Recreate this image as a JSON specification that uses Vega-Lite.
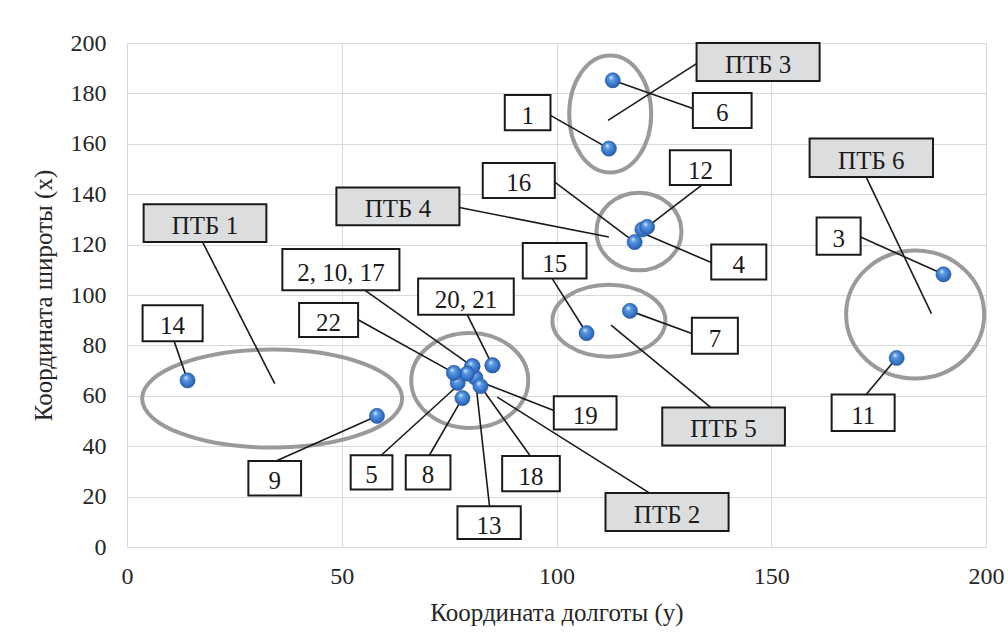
{
  "$schema": "https://vega.github.io/schema/vega-lite/v6.json",
  "autosize": {"type": "none"},
  "width": 859,
  "height": 504,
  "padding": {"left": 127, "top": 43, "right": 22, "bottom": 91},
  "background": "white",
  "config": {
    "view": {"stroke": null},
    "font": "Liberation Serif",
    "axis": {
      "grid": true,
      "gridColor": "#d9d9d9",
      "gridWidth": 1,
      "domain": false,
      "ticks": false,
      "tickSize": 0,
      "labelFont": "Liberation Serif",
      "titleFont": "Liberation Serif",
      "labelFontSize": 24,
      "titleFontSize": 25,
      "titleFontWeight": "normal",
      "labelColor": "#262626",
      "titleColor": "#262626",
      "labelFlush": false,
      "labelOverlap": false
    }
  },
  "datasets": {
    "points": [
      {"id": "1", "x": 112.2, "y": 158.1},
      {"id": "2", "x": 80.4, "y": 71.7},
      {"id": "3", "x": 190.1, "y": 108.2},
      {"id": "4", "x": 120.0, "y": 126.0},
      {"id": "5", "x": 77.0, "y": 65.1},
      {"id": "6", "x": 113.1, "y": 185.2},
      {"id": "7", "x": 117.1, "y": 93.7},
      {"id": "8", "x": 78.1, "y": 59.1},
      {"id": "9", "x": 58.2, "y": 52.0},
      {"id": "10", "x": 80.4, "y": 71.7},
      {"id": "11", "x": 179.2, "y": 75.0},
      {"id": "12", "x": 121.1, "y": 127.0},
      {"id": "13", "x": 81.1, "y": 67.2},
      {"id": "14", "x": 14.1, "y": 66.1},
      {"id": "15", "x": 107.0, "y": 84.9},
      {"id": "16", "x": 118.2, "y": 121.0},
      {"id": "17", "x": 80.4, "y": 71.7},
      {"id": "18", "x": 82.3, "y": 63.8},
      {"id": "19", "x": 79.2, "y": 68.8},
      {"id": "20", "x": 85.1, "y": 72.1},
      {"id": "21", "x": 85.1, "y": 72.1},
      {"id": "22", "x": 76.1, "y": 69.1}
    ],
    "groups": [
      {"name": "ПТБ 1", "cx": 33.8, "cy": 58.9},
      {"name": "ПТБ 2", "cx": 79.8, "cy": 66.1},
      {"name": "ПТБ 3", "cx": 112.5, "cy": 171.8},
      {"name": "ПТБ 4", "cx": 119.2, "cy": 125.2},
      {"name": "ПТБ 5", "cx": 112.2, "cy": 89.8},
      {"name": "ПТБ 6", "cx": 183.5, "cy": 92.3}
    ],
    "labels": [
      {"label": "ПТБ 1", "kind": "group", "x1": 3.87, "x2": 32.45, "y1": 121.0, "y2": 136.0, "lx": 18.16, "ly": 128.5, "px": 34.4, "py": 64.8, "ex": 17.6, "ey": 121.0},
      {"label": "ПТБ 2", "kind": "group", "x1": 111.41, "x2": 140.07, "y1": 6.3, "y2": 21.4, "lx": 125.74, "ly": 13.85, "px": 86.2, "py": 59.5, "ex": 121.7, "ey": 21.4},
      {"label": "ПТБ 3", "kind": "group", "x1": 132.61, "x2": 161.26, "y1": 184.9, "y2": 200.0, "lx": 146.94, "ly": 192.45, "px": 112.0, "py": 169.3, "ex": 132.61, "ey": 191.8},
      {"label": "ПТБ 4", "kind": "group", "x1": 48.75, "x2": 77.4, "y1": 127.7, "y2": 142.7, "lx": 63.08, "ly": 135.2, "px": 112.2, "py": 123.0, "ex": 77.4, "ey": 134.7},
      {"label": "ПТБ 5", "kind": "group", "x1": 124.62, "x2": 153.18, "y1": 40.3, "y2": 55.4, "lx": 138.9, "ly": 47.85, "px": 112.7, "py": 88.0, "ex": 135.9, "ey": 55.4},
      {"label": "ПТБ 6", "kind": "group", "x1": 158.93, "x2": 187.66, "y1": 146.8, "y2": 162.1, "lx": 173.3, "ly": 154.45, "px": 187.3, "py": 92.6, "ex": 172.1, "ey": 146.8},
      {"label": "1", "kind": "point", "x1": 87.96, "x2": 98.6, "y1": 165.4, "y2": 179.4, "lx": 93.28, "ly": 172.4, "px": 112.2, "py": 158.1, "ex": 98.6, "ey": 171.3},
      {"label": "6", "kind": "point", "x1": 131.75, "x2": 145.42, "y1": 166.3, "y2": 180.2, "lx": 138.6, "ly": 173.25, "px": 113.1, "py": 185.2, "ex": 131.75, "ey": 174.0},
      {"label": "16", "kind": "point", "x1": 82.83, "x2": 99.6, "y1": 138.5, "y2": 152.4, "lx": 91.2, "ly": 145.45, "px": 118.2, "py": 121.0, "ex": 99.6, "ey": 144.8},
      {"label": "12", "kind": "point", "x1": 126.39, "x2": 140.6, "y1": 143.7, "y2": 157.4, "lx": 133.5, "ly": 150.55, "px": 121.1, "py": 127.0, "ex": 133.9, "ey": 143.7},
      {"label": "4", "kind": "point", "x1": 136.03, "x2": 148.85, "y1": 106.2, "y2": 120.0, "lx": 142.44, "ly": 113.1, "px": 120.0, "py": 124.6, "ex": 136.03, "ey": 112.9},
      {"label": "3", "kind": "point", "x1": 160.56, "x2": 170.81, "y1": 116.0, "y2": 130.8, "lx": 165.7, "ly": 123.4, "px": 190.1, "py": 108.2, "ex": 170.81, "ey": 123.0},
      {"label": "15", "kind": "point", "x1": 92.15, "x2": 106.99, "y1": 106.5, "y2": 120.6, "lx": 99.57, "ly": 113.55, "px": 107.0, "py": 84.9, "ex": 99.0, "ey": 106.5},
      {"label": "7", "kind": "point", "x1": 131.52, "x2": 142.23, "y1": 76.7, "y2": 91.0, "lx": 136.9, "ly": 83.85, "px": 117.1, "py": 93.7, "ex": 131.52, "ey": 84.7},
      {"label": "19", "kind": "point", "x1": 99.37, "x2": 113.98, "y1": 46.6, "y2": 59.8, "lx": 106.7, "ly": 53.2, "px": 82.3, "py": 65.5, "ex": 99.37, "ey": 54.2},
      {"label": "11", "kind": "point", "x1": 164.06, "x2": 178.73, "y1": 46.0, "y2": 60.5, "lx": 171.4, "ly": 53.25, "px": 179.2, "py": 75.0, "ex": 172.1, "ey": 60.5},
      {"label": "18", "kind": "point", "x1": 87.35, "x2": 100.77, "y1": 22.1, "y2": 36.1, "lx": 94.06, "ly": 29.1, "px": 82.3, "py": 63.8, "ex": 93.9, "ey": 36.1},
      {"label": "14", "kind": "point", "x1": 3.63, "x2": 17.61, "y1": 81.6, "y2": 95.9, "lx": 10.62, "ly": 88.75, "px": 14.1, "py": 66.1, "ex": 11.0, "ey": 81.6},
      {"label": "22", "kind": "point", "x1": 40.07, "x2": 53.81, "y1": 83.3, "y2": 96.8, "lx": 46.94, "ly": 90.05, "px": 76.1, "py": 69.1, "ex": 53.81, "ey": 90.2},
      {"label": "9", "kind": "point", "x1": 28.26, "x2": 40.53, "y1": 20.4, "y2": 34.1, "lx": 34.4, "ly": 27.25, "px": 58.2, "py": 52.0, "ex": 34.7, "ey": 34.1},
      {"label": "5", "kind": "point", "x1": 52.08, "x2": 61.8, "y1": 22.8, "y2": 36.4, "lx": 56.94, "ly": 29.6, "px": 76.5, "py": 63.3, "ex": 59.2, "ey": 36.4},
      {"label": "8", "kind": "point", "x1": 64.9, "x2": 75.31, "y1": 22.8, "y2": 36.4, "lx": 70.1, "ly": 29.6, "px": 78.1, "py": 59.1, "ex": 70.4, "ey": 36.4},
      {"label": "13", "kind": "point", "x1": 76.94, "x2": 91.68, "y1": 3.2, "y2": 16.2, "lx": 84.3, "ly": 9.7, "px": 81.1, "py": 66.8, "ex": 84.4, "ey": 16.2},
      {"label": "2, 10, 17", "kind": "point", "x1": 36.17, "x2": 63.43, "y1": 101.9, "y2": 118.3, "lx": 49.8, "ly": 110.1, "px": 80.4, "py": 71.7, "ex": 55.35, "ey": 101.9},
      {"label": "20, 21", "kind": "point", "x1": 67.78, "x2": 90.05, "y1": 92.2, "y2": 106.5, "lx": 78.9, "ly": 99.35, "px": 85.1, "py": 72.1, "ex": 79.2, "ey": 92.2}
    ]
  },
  "layer": [
    {
      "data": {"name": "groups"},
      "mark": {"type": "point", "filled": false, "size": 4, "stroke": "#9a9a9a", "strokeWidth": 4, "opacity": 1},
      "encoding": {
        "x": {"field": "cx", "type": "quantitative", "scale": {"domain": [0, 200], "nice": false},
          "axis": {"title": "Координата долготы (у)", "values": [0, 50, 100, 150, 200], "labelPadding": 17, "titlePadding": 12}},
        "y": {"field": "cy", "type": "quantitative", "scale": {"domain": [0, 200], "nice": false},
          "axis": {"title": "Координата широты (х)", "values": [0, 20, 40, 60, 80, 100, 120, 140, 160, 180, 200], "labelPadding": 21, "titlePadding": 14}},
        "shape": {"field": "name", "type": "nominal", "legend": null,
          "scale": {"domain": ["ПТБ 1", "ПТБ 2", "ПТБ 3", "ПТБ 4", "ПТБ 5", "ПТБ 6"],
            "range": [
              "M -130 0 A 130 49 0 1 0 130 0 A 130 49 0 1 0 -130 0 Z",
              "M -58.5 0 A 58.5 47.5 0 1 0 58.5 0 A 58.5 47.5 0 1 0 -58.5 0 Z",
              "M -41 0 A 41 58.5 0 1 0 41 0 A 41 58.5 0 1 0 -41 0 Z",
              "M -42.5 0 A 42.5 38.8 0 1 0 42.5 0 A 42.5 38.8 0 1 0 -42.5 0 Z",
              "M -56.5 0 A 56.5 36 0 1 0 56.5 0 A 56.5 36 0 1 0 -56.5 0 Z",
              "M -69 0 A 69 64 0 1 0 69 0 A 69 64 0 1 0 -69 0 Z"
            ]}}
      }
    },
    {
      "data": {"name": "labels"},
      "mark": {"type": "rule", "color": "#1a1a1a", "strokeWidth": 1.6},
      "encoding": {
        "x": {"field": "px", "type": "quantitative", "scale": {"domain": [0, 200], "nice": false},
          "axis": {"title": "Координата долготы (у)", "values": [0, 50, 100, 150, 200], "labelPadding": 17, "titlePadding": 12}},
        "y": {"field": "py", "type": "quantitative", "scale": {"domain": [0, 200], "nice": false},
          "axis": {"title": "Координата широты (х)", "values": [0, 20, 40, 60, 80, 100, 120, 140, 160, 180, 200], "labelPadding": 21, "titlePadding": 14}},
        "x2": {"field": "ex"},
        "y2": {"field": "ey"}
      }
    },
    {
      "data": {"name": "points"},
      "mark": {"type": "circle", "size": 230, "opacity": 1, "strokeWidth": 0.6, "stroke": "#2b5a9e",
        "fill": {"gradient": "radial", "x1": 0.38, "y1": 0.3, "r1": 0.02, "x2": 0.5, "y2": 0.5, "r2": 0.58,
          "stops": [{"offset": 0, "color": "#d6e6fb"}, {"offset": 0.25, "color": "#5b9be4"}, {"offset": 0.75, "color": "#2f6cc0"}, {"offset": 1, "color": "#1c4a8f"}]}},
      "encoding": {
        "x": {"field": "x", "type": "quantitative", "scale": {"domain": [0, 200], "nice": false},
          "axis": {"title": "Координата долготы (у)", "values": [0, 50, 100, 150, 200], "labelPadding": 17, "titlePadding": 12}},
        "y": {"field": "y", "type": "quantitative", "scale": {"domain": [0, 200], "nice": false},
          "axis": {"title": "Координата широты (х)", "values": [0, 20, 40, 60, 80, 100, 120, 140, 160, 180, 200], "labelPadding": 21, "titlePadding": 14}}
      }
    },
    {
      "data": {"name": "labels"},
      "mark": {"type": "rect", "stroke": "#1a1a1a", "strokeWidth": 2},
      "encoding": {
        "x": {"field": "x1", "type": "quantitative", "scale": {"domain": [0, 200], "nice": false},
          "axis": {"title": "Координата долготы (у)", "values": [0, 50, 100, 150, 200], "labelPadding": 17, "titlePadding": 12}},
        "x2": {"field": "x2"},
        "y": {"field": "y1", "type": "quantitative", "scale": {"domain": [0, 200], "nice": false},
          "axis": {"title": "Координата широты (х)", "values": [0, 20, 40, 60, 80, 100, 120, 140, 160, 180, 200], "labelPadding": 21, "titlePadding": 14}},
        "y2": {"field": "y2"},
        "fill": {"field": "kind", "type": "nominal", "legend": null,
          "scale": {"domain": ["point", "group"], "range": ["#ffffff", "#dcdddf"]}}
      }
    },
    {
      "data": {"name": "labels"},
      "mark": {"type": "text", "font": "Liberation Serif", "fontSize": 25, "color": "#1a1a1a", "baseline": "middle", "align": "center", "dy": 3},
      "encoding": {
        "x": {"field": "lx", "type": "quantitative", "scale": {"domain": [0, 200], "nice": false},
          "axis": {"title": "Координата долготы (у)", "values": [0, 50, 100, 150, 200], "labelPadding": 17, "titlePadding": 12}},
        "y": {"field": "ly", "type": "quantitative", "scale": {"domain": [0, 200], "nice": false},
          "axis": {"title": "Координата широты (х)", "values": [0, 20, 40, 60, 80, 100, 120, 140, 160, 180, 200], "labelPadding": 21, "titlePadding": 14}},
        "text": {"field": "label", "type": "nominal"}
      }
    }
  ]
}
